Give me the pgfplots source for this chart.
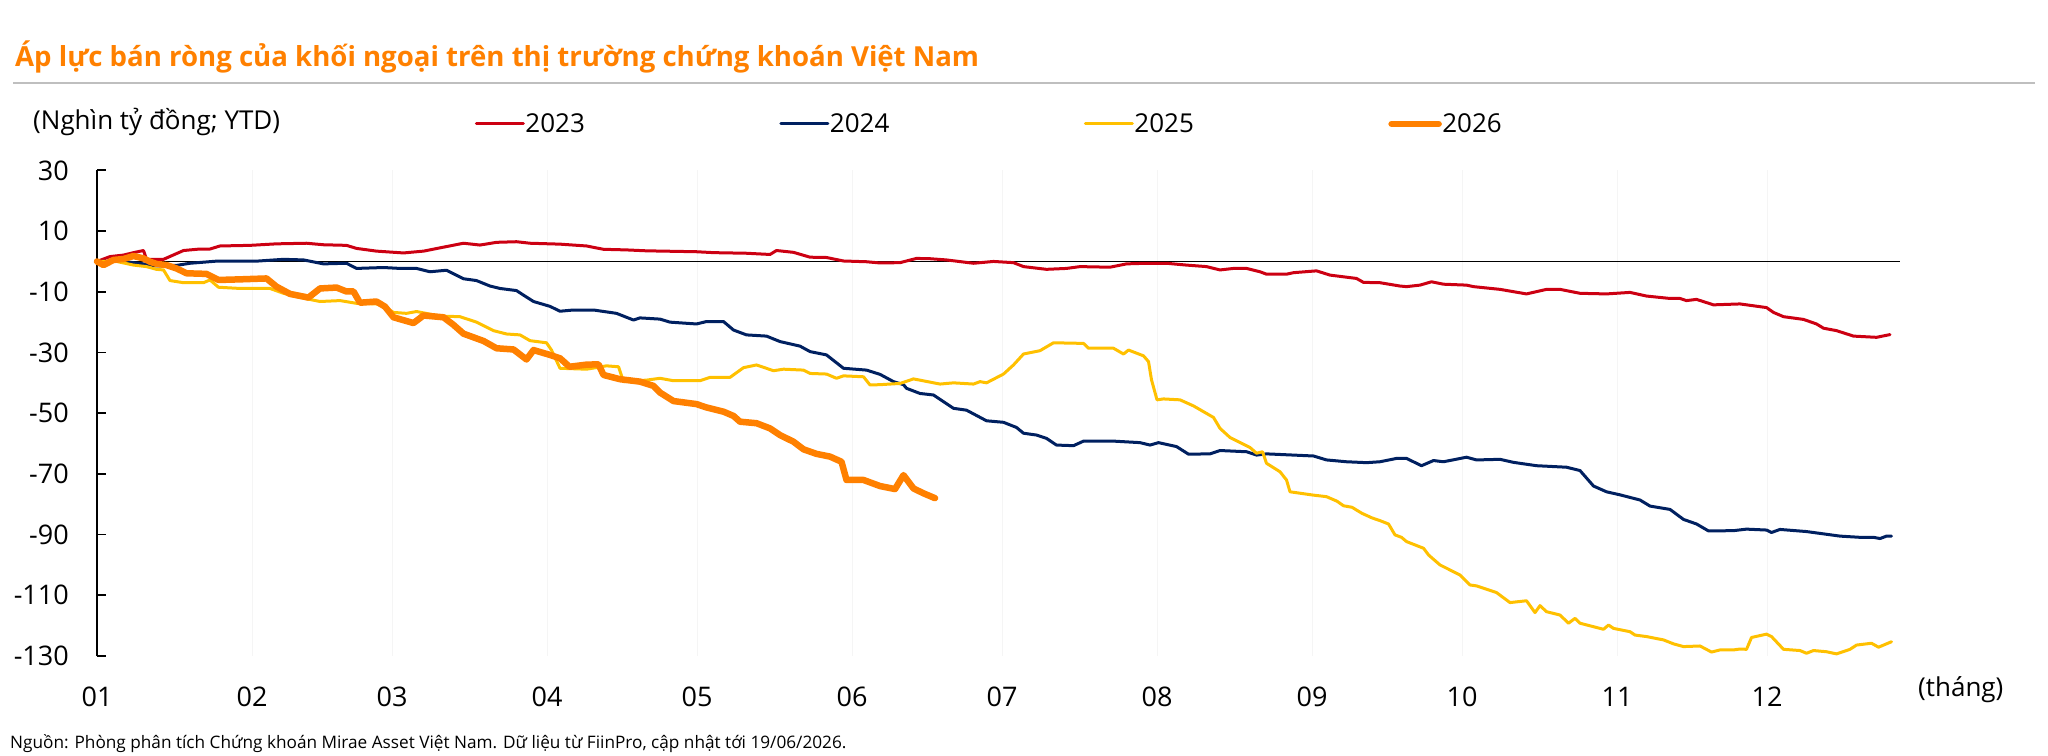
\documentclass[border=0pt]{standalone}
\usepackage{pgfplots}
\pgfplotsset{compat=1.18}
\usepackage{fontspec}
\setmainfont{Open Sans}
\definecolor{c23}{RGB}{204,0,18}
\definecolor{c24}{RGB}{0,32,96}
\definecolor{c25}{RGB}{255,192,0}
\definecolor{c26}{RGB}{255,128,0}
\definecolor{ttl}{RGB}{255,128,0}
\definecolor{rulegray}{RGB}{191,191,191}
\definecolor{gridc}{RGB}{245,245,245}
\begin{document}
\begin{tikzpicture}
\path[use as bounding box] (0,0) rectangle (2048pt,755pt);
\node[anchor=base west, inner sep=0pt, text=ttl, font=\bfseries\fontsize{27.6}{32}\selectfont] at (15pt,688pt) {Áp lực bán ròng của khối ngoại trên thị trường chứng khoán Việt Nam};
\draw[rulegray, line width=2.5pt] (13pt,672pt) -- (2035pt,672pt);
\node[anchor=west, inner sep=0pt, font=\fontsize{26}{30}\selectfont] at (33pt,633pt) {(Nghìn tỷ đồng; YTD)};
\node[anchor=west, inner sep=0pt, font=\fontsize{26}{30}\selectfont] at (1918pt,65pt) {(tháng)};
\node[anchor=base west, inner sep=0pt, font=\fontsize{17.2}{20}\selectfont] at (10pt,7pt) {Nguồn: Phòng phân tích Chứng khoán Mirae Asset Việt Nam. Dữ liệu từ FiinPro, cập nhật tới 19/06/2026.};
\begin{axis}[
  at={(97pt,99pt)}, anchor=south west,
  width=1825pt, height=485.6pt, scale only axis,
  xmin=0, xmax=365, ymin=-130, ymax=30,
  separate axis lines,
  x axis line style={draw=none},
  axis y line*=left,
  y axis line style={line width=1.8pt, black, -},
  xtick={0,31,59,90,120,151,181,212,243,273,304,334},
  xticklabels={01,02,03,04,05,06,07,08,09,10,11,12},
  ytick={-130,-110,-90,-70,-50,-30,-10,10,30},
  yticklabels={-130,-110,-90,-70,-50,-30,-10,10,30},
  tick align=inside,
  major tick length=9pt,
  ytick style={line width=1.8pt, black},
  xtick style={draw=none},
  xmajorgrids,
  major x grid style={gridc, line width=1pt},
  ticklabel style={font=\fontsize{27}{30}\selectfont},
  yticklabel style={inner sep=0pt, anchor=east, xshift=-28pt},
  xticklabel style={inner sep=0pt, anchor=north, yshift=-31pt},
  legend columns=4,
  legend style={draw=none, fill=none, at={(axis description cs:0.2071,1.0956)}, anchor=west, inner sep=0pt, outer sep=0pt, font=\fontsize{26}{30}\selectfont, nodes={inner sep=0.5pt}, /tikz/every even column/.append style={column sep=194pt}},
  legend image code/.code={\draw[#1] (0pt,0pt) -- (47pt,0pt);},
  every axis plot/.append style={line join=round, line cap=round},
  clip=false,
]
\addplot[black, line width=1.6pt, line cap=butt, forget plot] coordinates {(0,0) (360.6,0)};
\addplot[c23, line width=3pt] coordinates {
(0,0) (2.6,1.6) (5.3,2.1) (7.3,2.9) (9.3,3.6) (9.9,0.7) (13.3,0.7) (17.3,3.6) (20.6,4.1) (22.6,4.1) (24.6,5.1) (30.6,5.3) (35.9,5.8) (41.9,6.0) (45.3,5.5) (49.9,5.3) (51.9,4.3) (55.9,3.4) (61.3,2.8) (65.3,3.4) (69.9,4.9) (73.3,6.0) (76.6,5.4) (79.9,6.3) (83.9,6.5) (86.6,6.0) (92.6,5.7) (97.9,5.1) (101.3,4.0) (105.9,3.8) (109.9,3.5) (119.9,3.2) (123.3,2.9) (129.9,2.7) (134.6,2.3) (135.9,3.6) (139.3,3.0) (142.6,1.4) (145.9,1.3) (149.3,0.15) (153.9,-0.1) (156.6,-0.5) (160.6,-0.4) (163.9,1.0) (166.6,0.9) (169.9,0.5) (175.3,-0.6) (179.3,0) (183.3,-0.4) (185.3,-1.7) (189.9,-2.6) (193.9,-2.3) (196.6,-1.7) (202.6,-1.9) (205.9,-0.8) (209.9,-0.6) (213.9,-0.6) (217.9,-1.2) (221.9,-1.7) (224.6,-2.8) (227.3,-2.3) (229.9,-2.3) (232.6,-3.4) (233.9,-4.2) (237.9,-4.2) (239.3,-3.7) (243.9,-3.1) (246.6,-4.5) (251.9,-5.6) (253.3,-6.9) (256.6,-7.0) (260.6,-8.1) (261.9,-8.3) (264.6,-7.8) (266.9,-6.7) (269.3,-7.5) (273.9,-7.8) (275.3,-8.3) (280.6,-9.2) (285.9,-10.7) (289.9,-9.2) (292.6,-9.2) (296.6,-10.5) (301.9,-10.7) (306.6,-10.2) (309.9,-11.4) (314.6,-12.2) (316.6,-12.2) (317.9,-12.9) (319.9,-12.5) (323.3,-14.3) (328.6,-14.0) (333.9,-15.2) (335.3,-16.8) (337.3,-18.2) (341.3,-19.1) (343.9,-20.6) (345.3,-22.0) (347.9,-22.8) (351.3,-24.6) (355.9,-25.0) (358.6,-24.1)
};
\addlegendentry{2023}
\addplot[c24, line width=3pt] coordinates {
(0,0) (5.3,0) (9.3,-0.8) (11.9,-1.5) (15.9,-1.3) (18.6,-0.6) (23.9,0.1) (31.9,0.1) (37.3,0.7) (41.3,0.5) (45.3,-0.8) (49.9,-0.6) (51.9,-2.3) (57.3,-2.0) (60.6,-2.3) (63.9,-2.3) (66.6,-3.4) (69.9,-2.9) (73.3,-5.7) (75.9,-6.3) (78.6,-8.1) (80.6,-8.9) (83.9,-9.6) (85.3,-11.1) (87.3,-13.2) (90.6,-14.8) (92.6,-16.4) (95.3,-16.0) (99.3,-16.0) (103.9,-17.1) (105.9,-18.4) (107.3,-19.3) (108.6,-18.6) (112.6,-19.0) (114.6,-20.0) (119.9,-20.6) (121.9,-19.8) (125.3,-19.8) (127.3,-22.6) (129.9,-24.2) (133.9,-24.6) (136.6,-26.4) (140.6,-27.9) (142.6,-29.7) (145.9,-30.8) (149.3,-35.2) (153.9,-35.8) (156.6,-37.2) (159.3,-39.6) (161.3,-40.6) (161.9,-41.8) (164.6,-43.5) (167.3,-44.0) (171.3,-48.4) (173.9,-49.0) (177.9,-52.5) (181.3,-53.0) (183.9,-54.7) (185.3,-56.6) (187.9,-57.2) (189.9,-58.3) (191.9,-60.5) (195.3,-60.7) (197.3,-59.2) (203.3,-59.2) (208.6,-59.7) (210.6,-60.5) (212.3,-59.7) (215.9,-61.0) (218.3,-63.5) (222.6,-63.4) (224.6,-62.3) (229.9,-62.7) (231.9,-63.8) (233.9,-63.4) (243.3,-64.1) (245.9,-65.4) (249.9,-66.0) (253.9,-66.3) (256.6,-66.0) (259.9,-64.9) (261.9,-64.9) (264.9,-67.3) (267.3,-65.6) (269.3,-66.0) (273.9,-64.5) (275.9,-65.4) (280.6,-65.2) (283.3,-66.2) (287.9,-67.3) (293.9,-67.8) (296.6,-68.9) (299.3,-74.0) (301.9,-75.9) (304.6,-76.9) (308.6,-78.6) (310.6,-80.6) (314.6,-81.7) (317.3,-85.0) (319.9,-86.5) (322.3,-88.8) (327.3,-88.7) (329.9,-88.2) (333.9,-88.5) (334.9,-89.3) (336.6,-88.3) (341.9,-89.0) (348.6,-90.5) (352.6,-90.9) (355.3,-90.9) (356.6,-91.3) (357.9,-90.5) (358.9,-90.5)
};
\addlegendentry{2024}
\addplot[c25, line width=3pt] coordinates {
(0,0) (3.9,0) (7.3,-1.2) (9.9,-1.7) (11.9,-2.6) (13.3,-2.8) (14.6,-6.3) (17.3,-7.0) (21.3,-7.0) (22.6,-6.1) (24.3,-8.5) (28.6,-8.9) (34.6,-8.9) (37.3,-10.5) (41.3,-12.1) (44.6,-13.2) (48.6,-12.9) (51.9,-13.8) (55.9,-14.0) (57.6,-15.0) (59.3,-16.8) (61.9,-17.1) (63.9,-16.5) (68.6,-18.0) (72.6,-18.2) (75.9,-20.0) (79.3,-22.8) (81.9,-23.9) (84.6,-24.2) (86.6,-26.1) (89.9,-26.8) (90.9,-29.2) (92.6,-35.2) (97.9,-35.5) (101.9,-34.4) (104.3,-34.7) (105.3,-39.6) (109.9,-39.1) (112.6,-38.5) (115.3,-39.3) (120.6,-39.3) (122.6,-38.2) (126.6,-38.2) (129.3,-35.0) (131.9,-34.1) (135.3,-36.0) (137.3,-35.5) (141.3,-35.8) (142.6,-36.9) (145.9,-37.1) (147.9,-38.5) (149.3,-37.7) (153.3,-38.0) (154.6,-40.7) (156.6,-40.6) (160.6,-40.2) (163.3,-38.7) (168.6,-40.4) (171.3,-40.0) (175.3,-40.4) (176.6,-39.6) (177.9,-40.0) (181.3,-37.1) (183.3,-34.1) (185.3,-30.5) (188.6,-29.4) (191.3,-26.8) (197.3,-27.0) (198.3,-28.6) (203.3,-28.6) (205.3,-30.5) (206.3,-29.2) (209.3,-31.1) (210.3,-33.0) (210.9,-39.0) (212.0,-45.6) (213.3,-45.3) (216.6,-45.6) (219.3,-47.6) (221.3,-49.5) (223.3,-51.4) (224.6,-55.0) (226.6,-58.0) (230.6,-61.3) (231.9,-63.2) (233.1,-62.7) (233.9,-66.5) (236.6,-69.3) (237.9,-72.0) (238.6,-75.9) (243.3,-77.0) (245.9,-77.5) (246.6,-78.0) (248,-79) (249.3,-80.5) (251,-81) (253,-83) (255,-84.5) (256.6,-85.4) (258.3,-86.5) (259.6,-90.1) (260.9,-90.9) (261.9,-92.3) (265.3,-94.5) (266.3,-96.7) (268.6,-100.0) (272.6,-103.3) (274.6,-106.6) (275.9,-106.9) (279.9,-109.1) (282.6,-112.4) (285.9,-111.8) (287.6,-115.7) (288.6,-113.4) (289.9,-115.4) (292.6,-116.5) (294.3,-119.2) (295.6,-117.6) (296.6,-119.2) (301.3,-121.2) (302.3,-119.8) (303.3,-120.9) (306.6,-122.0) (307.6,-123.1) (309.9,-123.6) (313.3,-124.7) (315.3,-126.0) (317.3,-126.9) (320.6,-126.7) (322.9,-128.7) (324.6,-128.0) (327.3,-128.0) (328.6,-127.7) (329.9,-127.8) (330.9,-123.9) (333.9,-122.8) (334.9,-123.6) (337.3,-127.8) (340.6,-128.2) (341.9,-129.1) (343.3,-128.2) (345.9,-128.6) (347.9,-129.3) (350.6,-127.8) (351.9,-126.4) (354.9,-125.8) (356.3,-127.1) (358.9,-125.3)
};
\addlegendentry{2025}
\addplot[c26, line width=6.5pt] coordinates {
(0,0) (1.3,-1.2) (3.3,0.5) (5.3,0.8) (7.3,1.8) (9.3,1.0) (10.6,-0.1) (11.9,-0.8) (13.9,-1.2) (15.9,-2.3) (17.9,-3.9) (21.9,-4.1) (24.3,-6.1) (28.6,-5.9) (33.9,-5.6) (35.9,-8.3) (38.6,-10.7) (42.3,-11.9) (44.6,-8.9) (47.9,-8.6) (49.9,-9.9) (51.3,-9.9) (52.6,-13.6) (55.9,-13.2) (57.6,-14.9) (59.3,-18.4) (63.3,-20.3) (65.3,-17.8) (69.3,-18.4) (71.3,-20.9) (73.3,-23.8) (77.3,-26.2) (79.9,-28.6) (83.3,-29.0) (85.9,-32.3) (87.3,-29.2) (90.6,-30.8) (92.6,-31.9) (94.5,-34.7) (97.9,-34.0) (100.3,-33.9) (101.3,-37.4) (104.6,-38.8) (108.6,-39.6) (111.3,-41.0) (112.6,-43.2) (115.3,-46.0) (119.9,-47.0) (121.9,-48.1) (125.3,-49.5) (127.3,-50.9) (128.6,-52.8) (131.9,-53.3) (134.6,-55.0) (136.6,-57.2) (139.3,-59.4) (141.3,-61.9) (143.9,-63.4) (146.6,-64.3) (148.9,-66.0) (149.9,-72.0) (153.3,-72.0) (156.6,-74.0) (159.6,-75.0) (161.3,-70.4) (163.3,-74.8) (165.3,-76.4) (167.6,-78.0)
};
\addlegendentry{2026}
\end{axis}
\end{tikzpicture}
\end{document}
